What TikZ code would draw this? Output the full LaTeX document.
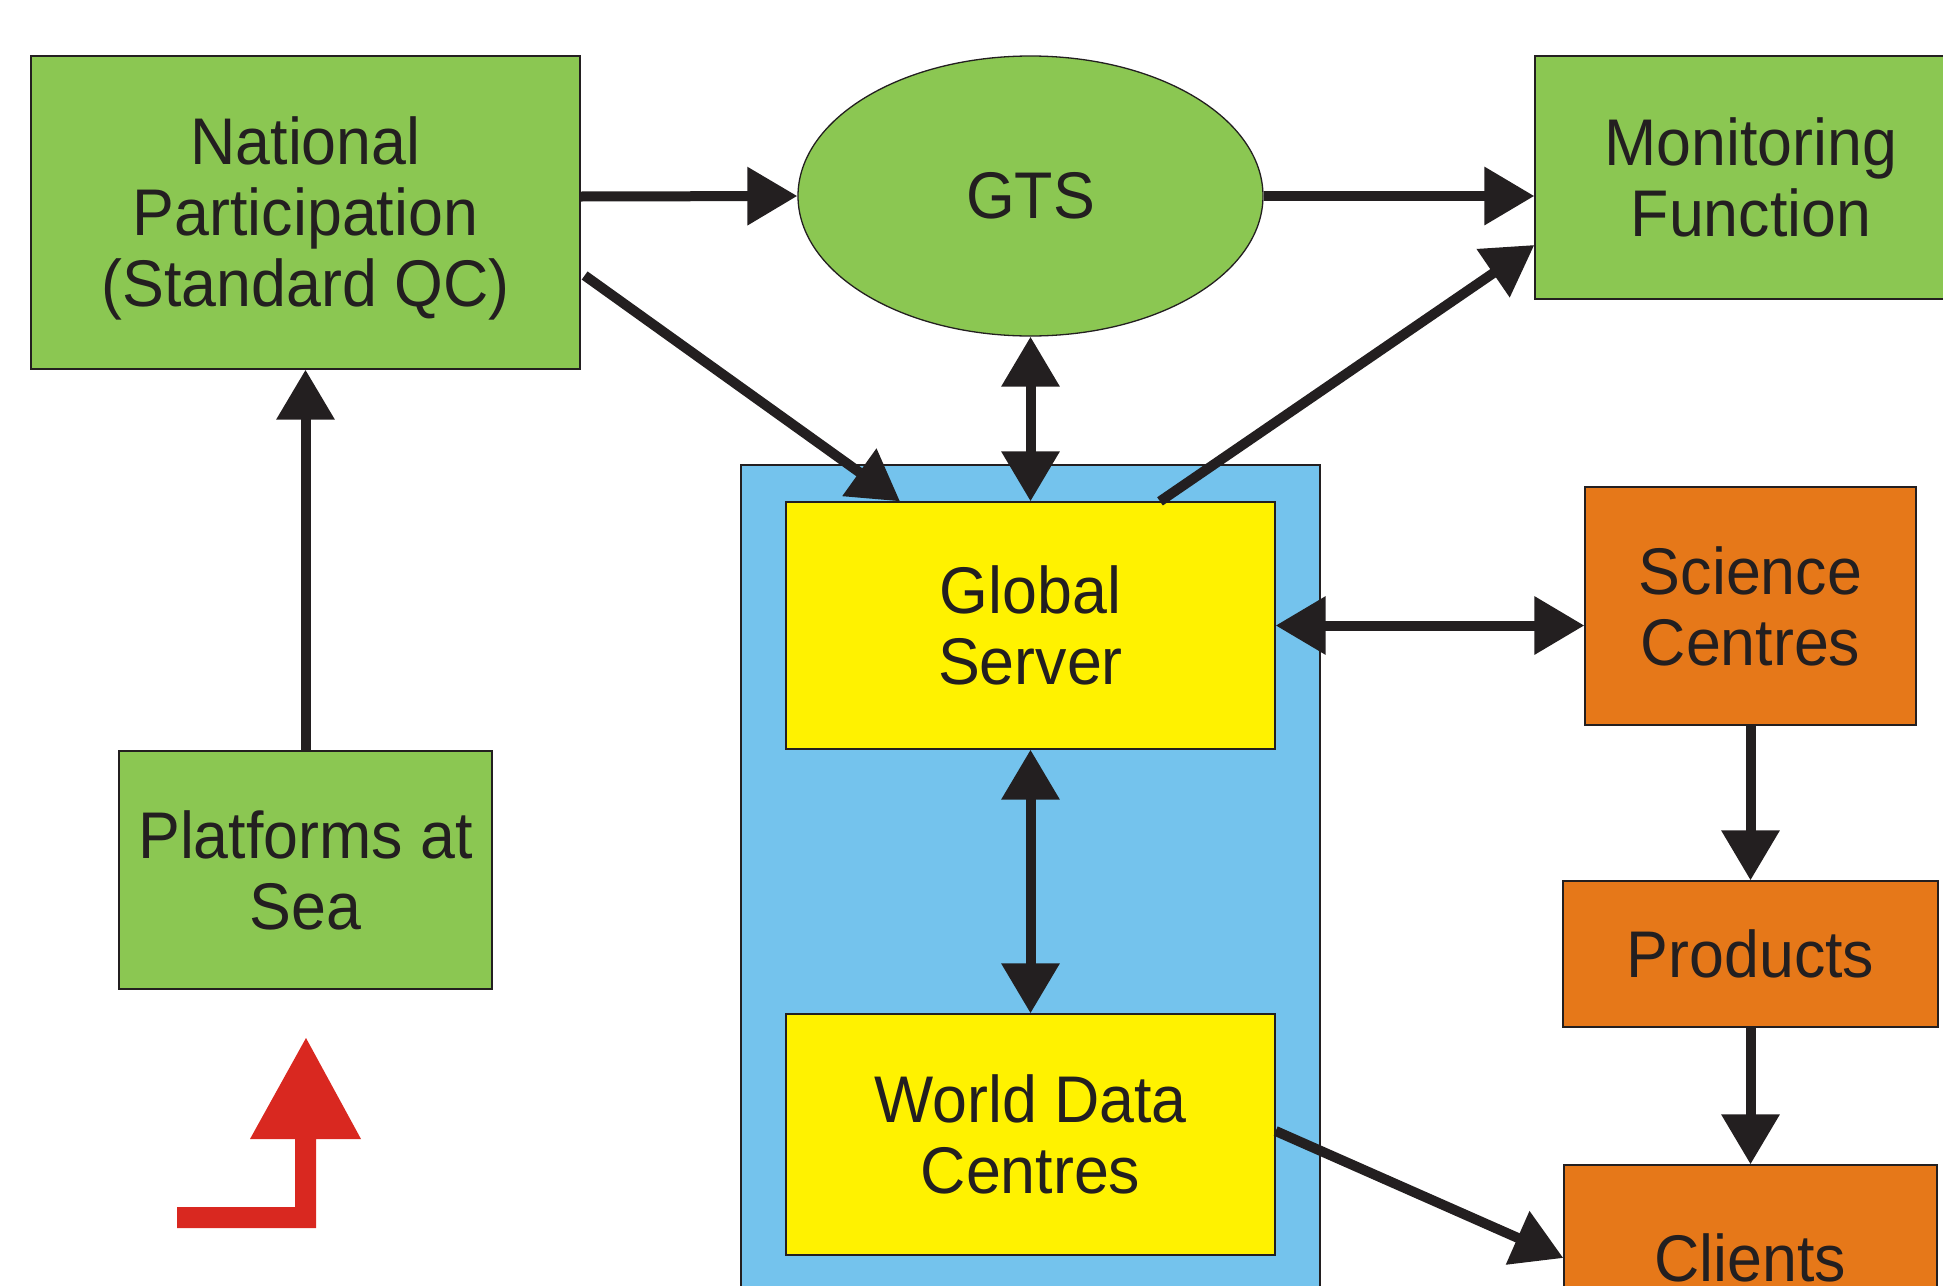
\documentclass[tikz,border=0pt]{standalone}
\usepackage{fontspec}
\setmainfont{Liberation Sans}[FakeStretch=0.95]
\usetikzlibrary{arrows.meta,shapes.geometric}
\definecolor{ink}{HTML}{231F20}
\definecolor{grn}{HTML}{8BC752}
\definecolor{skyb}{HTML}{74C3ED}
\definecolor{ylw}{HTML}{FFF200}
\definecolor{orng}{HTML}{E67819}
\definecolor{redc}{HTML}{D92820}
\begin{document}
\begin{tikzpicture}[x=1pt,y=-1pt,
  box/.style={draw=ink, line width=1.3pt, text=ink, align=center, inner sep=0pt,
    font=\fontsize{66}{71}\selectfont},
  conn/.style={draw=ink, line width=10pt, -{Triangle[length=50pt,width=56pt]}},
  biconn/.style={draw=ink, line width=10pt, {Triangle[length=50pt,width=56pt]}-{Triangle[length=50pt,width=56pt]}},
  plain/.style={draw=ink, line width=10pt}]
\useasboundingbox (0,0) rectangle (1943,1285);
\clip (0,0) rectangle (1943,1285);
% blue container
\draw[draw=ink, line width=1.3pt, fill=skyb] (741,465) rectangle (1320,1300);
% nodes
\node[box, fill=grn, minimum width=549pt, minimum height=313pt] (nat) at (305.5,212.5) {\rule{0pt}{60pt}National\\Participation\\(Standard QC)};
\node[box, fill=grn, ellipse, minimum width=465pt, minimum height=280pt] (gts) at (1030.5,196) {GTS};
\node[box, fill=grn, minimum width=432pt, minimum height=243pt] (mon) at (1751,177.5) {Monitoring\\Function};
\node[box, fill=grn, minimum width=373pt, minimum height=238pt] (plat) at (305.5,870) {Platforms at\\Sea};
\node[box, fill=ylw, minimum width=489pt, minimum height=247pt] (gs) at (1030.5,625.5) {Global\\Server};
\node[box, fill=ylw, minimum width=489pt, minimum height=241pt] (wdc) at (1030.5,1134.5) {World Data\\Centres};
\node[box, fill=orng, minimum width=331pt, minimum height=238pt] (sci) at (1750.5,606) {Science\\Centres};
\node[box, fill=orng, minimum width=375pt, minimum height=146pt] (prod) at (1750.5,954) {Products};
\node[box, fill=orng, minimum width=373pt, minimum height=186pt] (cli) at (1750.5,1258) {Clients};
% connectors
\draw[conn] ([yshift=16pt]nat.east) -- (gts.west);
\draw[conn] (gts.east) -- ([yshift=-18.5pt]mon.west);
\draw[conn] ([xshift=4pt,yshift=-63pt]nat.east) -- ([xshift=-130.5pt]gs.north);
\draw[biconn] (gts.south) -- (gs.north);
\draw[conn] ([xshift=129.5pt]gs.north) -- ([yshift=-67.5pt]mon.west);
\draw[biconn] (gs.east) -- (gs.east -| sci.west);
\draw[biconn] (gs.south) -- (wdc.north);
\draw[conn] (plat.north) -- (nat.south);
\draw[conn] (sci.south) -- (prod.north);
\draw[conn] (prod.south) -- (cli.north);
\draw[conn] ([yshift=3.5pt]wdc.east) -- (cli.west);
% red turn arrow
\fill[redc] (306,1038) -- (361,1139) -- (316,1139) -- (316,1228) -- (177,1228) -- (177,1207) -- (295,1207) -- (295,1139) -- (250,1139) -- cycle;
\end{tikzpicture}
\end{document}
